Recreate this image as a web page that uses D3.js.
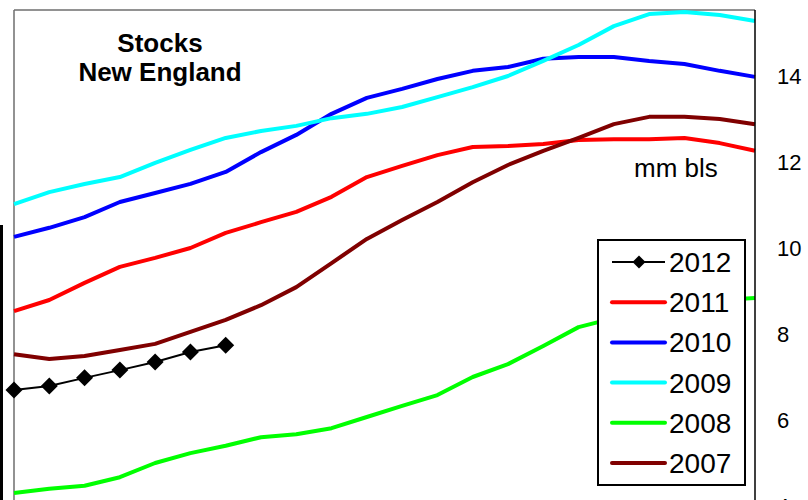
<!DOCTYPE html>
<html>
<head>
<meta charset="utf-8">
<script src="https://cdn.jsdelivr.net/npm/d3@7"></script>
<style>
  html, body { margin: 0; padding: 0; background: #fff; }
  svg { display: block; font-family: "Liberation Sans", Arial, sans-serif; }
</style>
</head>
<body>
<svg id="chart" width="808" height="500"></svg>
<script>
// Weekly distillate stocks, New England (million barrels)
const weeks = [1, 2, 3, 4, 5, 6, 7, 8, 9, 10, 11, 12, 13, 14, 15, 16, 17, 18, 19, 20, 21, 22];

const s2012 = [6.70, 6.79, 6.98, 7.16, 7.35, 7.58, 7.74];
const s2011 = [8.53, 8.79, 9.19, 9.56, 9.77, 10.00, 10.35, 10.60, 10.84, 11.19, 11.65, 11.91,
               12.16, 12.35, 12.37, 12.42, 12.51, 12.53, 12.53, 12.56, 12.44, 12.26];
const s2010 = [10.26, 10.47, 10.72, 11.07, 11.28, 11.49, 11.77, 12.23, 12.63, 13.12, 13.49, 13.70,
               13.93, 14.12, 14.21, 14.40, 14.44, 14.44, 14.35, 14.28, 14.12, 13.98];
const s2009 = [11.02, 11.30, 11.49, 11.65, 11.98, 12.28, 12.56, 12.72, 12.84, 13.02, 13.12, 13.28,
               13.51, 13.74, 14.00, 14.35, 14.72, 15.16, 15.44, 15.49, 15.42, 15.28];
const s2008 = [4.30, 4.40, 4.47, 4.67, 5.00, 5.23, 5.40, 5.60, 5.67, 5.81, 6.07, 6.33,
               6.58, 7.00, 7.30, 7.72, 8.16, 8.37, 8.56, 8.67, 8.79, 8.84];
const s2007 = [7.53, 7.42, 7.49, 7.63, 7.77, 8.05, 8.33, 8.67, 9.09, 9.65, 10.21, 10.65,
               11.07, 11.53, 11.93, 12.26, 12.56, 12.88, 13.05, 13.05, 13.00, 12.88];

const seriesNames = ["2012", "2011", "2010", "2009", "2008", "2007"];
const seriesValues = [s2012, s2011, s2010, s2009, s2008, s2007];
const seriesColors = ["#000000", "#ff0000", "#0000ff", "#00ffff", "#00ff00", "#800000"];

const yTicks = [4, 6, 8, 10, 12, 14];
const titleLines = ["Stocks", "New England"];
const unitLabel = "mm bls";

const svg = d3.select("#chart");
const plot = { left: 14, right: 755, top: 10, bottom: 500 };

const x = d3.scaleLinear().domain([weeks[0], weeks[weeks.length - 1]]).range([plot.left, plot.right]);
const y = d3.scaleLinear().domain([4, 14]).range([506, 76]);

// Edge of a neighbouring panel
svg.append("rect").attr("x", 0).attr("y", 225).attr("width", 3).attr("height", 275).attr("fill", "#000");

// Plot frame
svg.append("line").attr("x1", plot.left).attr("x2", plot.right).attr("y1", plot.top).attr("y2", plot.top)
  .attr("stroke", "#6e6e6e").attr("stroke-width", 1.5);
svg.append("line").attr("x1", plot.left).attr("x2", plot.left).attr("y1", plot.top).attr("y2", plot.bottom)
  .attr("stroke", "#6e6e6e").attr("stroke-width", 1.5);

// Series lines (later series drawn on top)
const line = d3.line().x((d, i) => x(weeks[i])).y(d => y(d));
const g = svg.append("g");
seriesValues.forEach((vals, si) => {
  const isMarked = si === 0;
  g.append("path")
    .datum(vals)
    .attr("d", line)
    .attr("fill", "none")
    .attr("stroke", seriesColors[si])
    .attr("stroke-width", isMarked ? 2 : 4)
    .attr("stroke-linejoin", "round");
  if (isMarked) {
    g.selectAll(null).data(vals).enter().append("path")
      .attr("transform", (d, i) => `translate(${x(weeks[i])},${y(d)})`)
      .attr("d", "M0,-8.5L8.5,0L0,8.5L-8.5,0Z")
      .attr("fill", "#000");
  }
});

// Right value axis
const axis = d3.axisRight(y).tickValues(yTicks).tickSize(0).tickPadding(22).tickFormat(d3.format("d"));
const ax = svg.append("g").attr("transform", `translate(${plot.right},0)`).call(axis);
ax.select(".domain").remove();
ax.selectAll("text").attr("font-size", 22).attr("fill", "#000")
  .attr("font-family", "Liberation Sans, Arial, sans-serif");
svg.append("line").attr("x1", plot.right).attr("x2", plot.right).attr("y1", plot.top).attr("y2", plot.bottom)
  .attr("stroke", "#000").attr("stroke-width", 1.5);

// Title
svg.append("text").attr("x", 160).attr("y", 51.5).attr("text-anchor", "middle")
  .attr("font-size", 26).attr("font-weight", "bold").text(titleLines[0]);
svg.append("text").attr("x", 160).attr("y", 80.5).attr("text-anchor", "middle")
  .attr("font-size", 26).attr("font-weight", "bold").text(titleLines[1]);

// Units
svg.append("text").attr("x", 634).attr("y", 177).attr("font-size", 26).text(unitLabel);

// Legend
const lg = svg.append("g");
lg.append("rect").attr("x", 598).attr("y", 240).attr("width", 147).attr("height", 245)
  .attr("fill", "#fff").attr("stroke", "#000").attr("stroke-width", 2);
seriesNames.forEach((name, i) => {
  const cy = 262 + i * 40.2;
  lg.append("line").attr("x1", 612).attr("x2", 665).attr("y1", cy).attr("y2", cy)
    .attr("stroke", seriesColors[i]).attr("stroke-width", i === 0 ? 2 : 4)
    .attr("stroke-linecap", i === 0 ? "butt" : "round");
  if (i === 0) {
    lg.append("path").attr("transform", `translate(639,${cy})`)
      .attr("d", "M0,-6.5L6.5,0L0,6.5L-6.5,0Z").attr("fill", "#000");
  }
  lg.append("text").attr("x", 669).attr("y", cy + 10).attr("font-size", 28).text(name);
});
</script>
</body>
</html>
